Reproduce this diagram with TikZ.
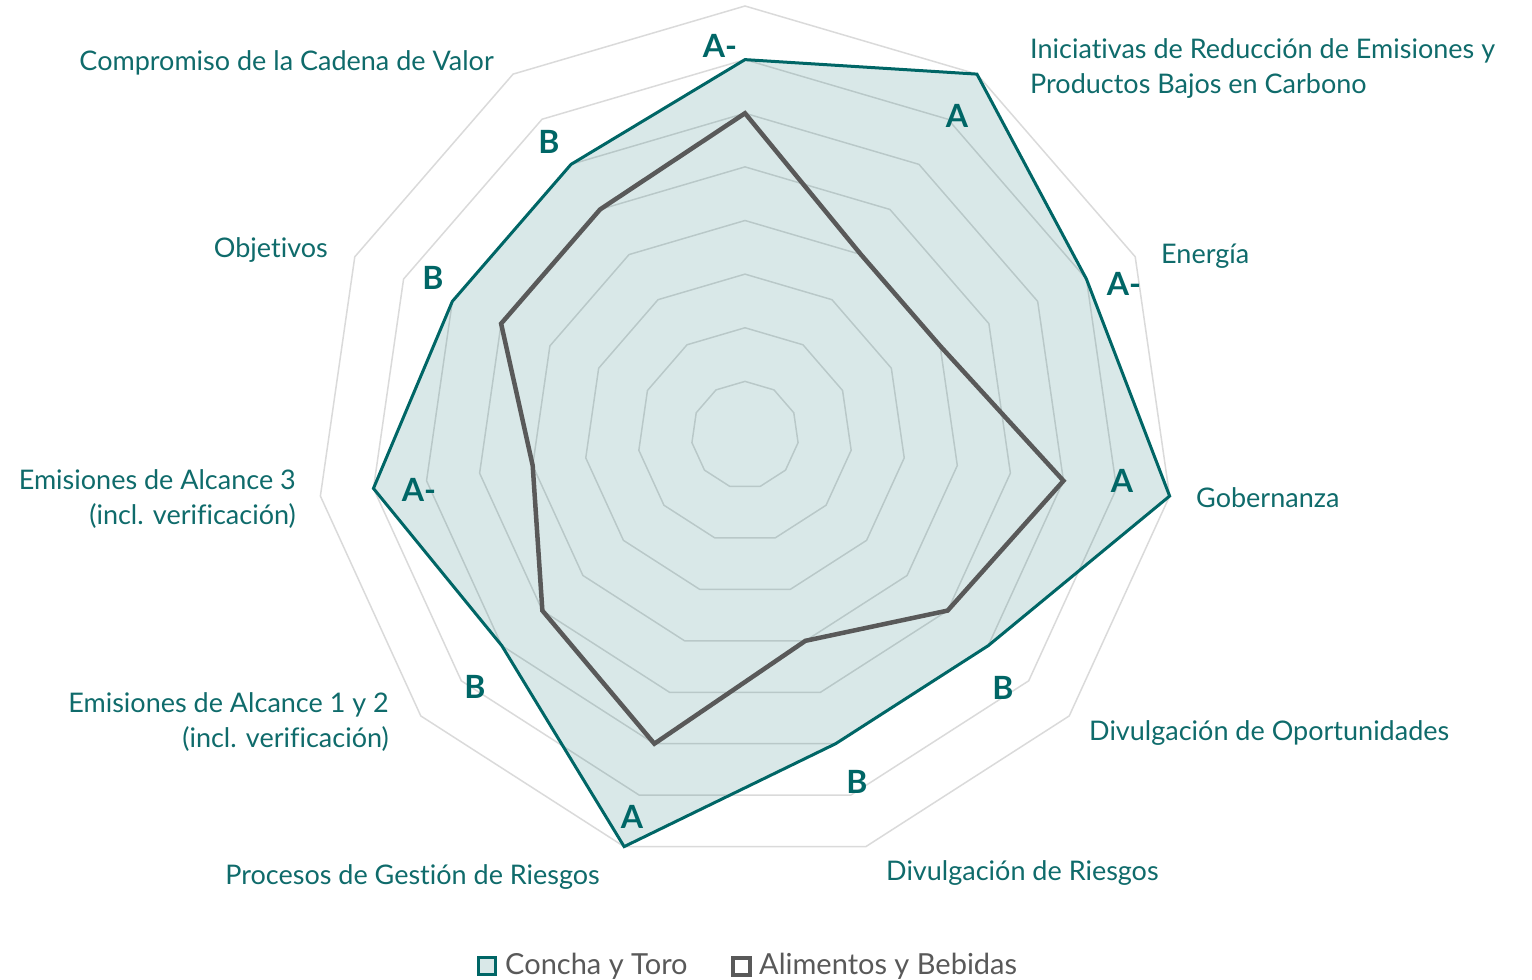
\documentclass[tikz,border=0pt]{standalone}
\usepackage{fontspec}
\setmainfont[Ligatures=NoCommon]{Lato}
\usetikzlibrary{calc}
\definecolor{tealline}{HTML}{006666}
\definecolor{tealtxt}{HTML}{0F6B6B}
\definecolor{gridc}{HTML}{DADADA}
\definecolor{darkg}{HTML}{595959}
\begin{document}
\begin{tikzpicture}[x=1pt,y=-1pt,
  cat/.style={text=tealtxt,font=\fontsize{27}{35}\selectfont, inner sep=0pt},
  grade/.style={text=tealline, font=\fontsize{32}{32}\selectfont\bfseries, inner sep=0pt},
  ring/.style={draw=gridc, line width=1.5pt},
  legtxt/.style={text=darkg, font=\fontsize{29}{29}\selectfont, inner sep=0pt, anchor=west}]
\useasboundingbox (0,0) rectangle (1532,980);
\begin{scope}[shift={(745,435)}]
  \foreach \r in {1,...,8} {
    \draw[ring] (-90:\r*53.625) \foreach \k in {1,...,10} { -- ({\k*360/11-90}:\r*53.625) } -- cycle;
  }
  \foreach \v [count=\k from 0] in {7,8,7,8,6,6,8,6,7,6,6} {
    \coordinate (c\k) at ({\k*360/11-90}:\v*53.625);
  }
  \foreach \v [count=\k from 0] in {6,4,4,6,5,4,6,5,4,5,5} {
    \coordinate (a\k) at ({\k*360/11-90}:\v*53.625);
  }
\end{scope}
\fill[tealline, fill opacity=0.15] (c0) -- (c1) -- (c2) -- (c3) -- (c4) -- (c5) -- (c6) -- (c7) -- (c8) -- (c9) -- (c10) -- cycle;
\draw[darkg, line width=4.5pt, line join=miter] (a0) -- (a1) -- (a2) -- (a3) -- (a4) -- (a5) -- (a6) -- (a7) -- (a8) -- (a9) -- (a10) -- cycle;
\draw[tealline, line width=3pt, line join=miter] (c0) -- (c1) -- (c2) -- (c3) -- (c4) -- (c5) -- (c6) -- (c7) -- (c8) -- (c9) -- (c10) -- cycle;
% grade labels
\node[grade] (g0) at (720,46) {A-};
\node[grade] (g1) at (957,116) {A};
\node[grade] (g2) at (1124,284) {A-};
\node[grade] (g3) at (1122,481) {A};
\node[grade] (g4) at (1003,688) {B};
\node[grade] (g5) at (857,782) {B};
\node[grade] (g6) at (632,817) {A};
\node[grade] (g7) at (475,687) {B};
\node[grade] (g8) at (419,490) {A-};
\node[grade] (g9) at (433,278) {B};
\node[grade] (g10) at (549,142) {B};
% category labels
\node[cat, anchor=east] (l10) at (494,63) {Compromiso de la Cadena de Valor};
\node[cat, anchor=west, align=left] (l1) at (1030,69) {Iniciativas de Reducción de Emisiones y\\Productos Bajos en Carbono};
\node[cat, anchor=west] (l2) at (1161,256) {Energía};
\node[cat, anchor=west] (l3) at (1196,498) {Gobernanza};
\node[cat, anchor=west] (l4) at (1089,733) {Divulgación de Oportunidades};
\node[cat, anchor=west] (l5) at (886,873) {Divulgación de Riesgos};
\node[cat, anchor=east] (l6) at (600,877) {Procesos de Gestión de Riesgos};
\node[cat, anchor=east, align=right] (l7) at (389,722) {Emisiones de Alcance 1 y 2\\(incl. verificación)};
\node[cat, anchor=east, align=right] (l8) at (296,499) {Emisiones de Alcance 3\\(incl. verificación)};
\node[cat, anchor=east] (l9) at (328,250) {Objetivos};
% legend
\node[draw=tealline, line width=2.5pt, fill=tealline!15, minimum size=17pt, inner sep=0pt] (k1) at (487,966) {};
\node[legtxt] (t1) at (505,966) {Concha y Toro};
\node[draw=darkg, line width=4pt, fill=white, minimum size=17pt, inner sep=0pt] (k2) at (741,966) {};
\node[legtxt] (t2) at (759,966) {Alimentos y Bebidas};
\end{tikzpicture}
\end{document}
